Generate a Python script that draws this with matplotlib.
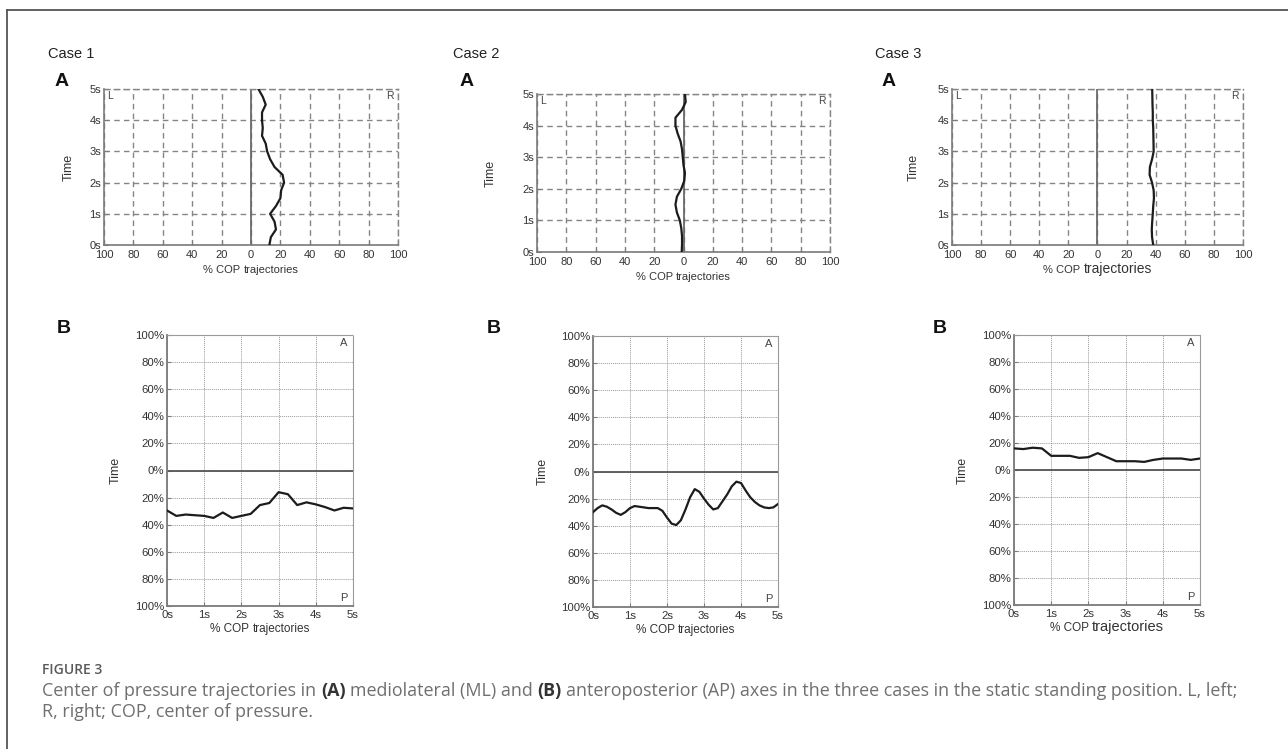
import numpy as np
import matplotlib
matplotlib.use("Agg")
import matplotlib.pyplot as plt
from matplotlib.lines import Line2D

# ---------------- data ----------------
# (A) mediolateral COP (%; negative = left, positive = right) sampled over time (s)
t_ml = np.linspace(0, 5, 21)
case1_ml = [12.5, 13.5, 17, 16, 13, 17, 20, 20.5, 22.5, 21.5, 16, 13, 11, 10, 7.5, 8, 7.5, 7.5, 10, 8, 5]
case2_ml = [-1.2, -1, -1, -1.5, -2.5, -4.5, -5.5, -4.5, -1.5, 0.5, 1, 0, -0.5, -1, -2, -4, -5.5, -5.5, -1, 1.5, 1]
case3_ml = [38.3, 37.5, 37.3, 37.6, 38, 38.3, 38.8, 38.6, 37.5, 35.8, 36, 37.5, 38.6, 38.5, 38.4, 38.3, 38, 38, 37.8, 37.7, 37.6]

# (B) anteroposterior COP (%; positive = anterior, negative = posterior) over time (s)
t_ap = np.linspace(0, 5, 21)
case1_ap = [-29.5, -33.5, -32.5, -33, -33.5, -35, -31, -35, -33.5, -32, -25.5, -24, -16, -17.5, -25.5, -23.5, -25, -27, -29.5, -27.5, -28]
t_ap2 = np.linspace(0, 5, 41)
case2_ap = [-30, -27, -25, -26, -28, -30.5, -32, -30, -27, -25.5, -26, -26.5, -27, -27, -27, -29,
            -34, -38.5, -39.5, -36, -28, -19, -13, -15, -20, -24.5, -28, -27, -22, -17, -11, -7.5,
            -8.5, -14, -19, -22.5, -25, -26.5, -27, -26.5, -24]
case3_ap = [16, 15.5, 16.5, 16, 10.5, 10.5, 10.5, 9, 9.5, 12.5, 9.5, 6.5, 6.5, 6.5, 6, 7.5, 8.5, 8.5, 8.5, 7.5, 8.5]

case_titles = ["Case 1", "Case 2", "Case 3"]
ml_xticks = [-100, -80, -60, -40, -20, 0, 20, 40, 60, 80, 100]
ml_xticklabels = ["100", "80", "60", "40", "20", "0", "20", "40", "60", "80", "100"]
ml_yticks = [0, 1, 2, 3, 4, 5]
ml_yticklabels = ["0s", "1s", "2s", "3s", "4s", "5s"]
ap_xticks = [0, 1, 2, 3, 4, 5]
ap_xticklabels = ["0s", "1s", "2s", "3s", "4s", "5s"]
ap_yticks = [-100, -80, -60, -40, -20, 0, 20, 40, 60, 80, 100]
ap_yticklabels = ["100%", "80%", "60%", "40%", "20%", "0%", "20%", "40%", "60%", "80%", "100%"]
xlabel_parts = ["% COP", "trajectories"]
ylabel_text = "Time"

# ---------------- figure ----------------
W, H = 1288, 749
fig = plt.figure(figsize=(W / 100, H / 100), dpi=100)
fig.patch.set_facecolor("white")
SANS = ["Liberation Sans", "DejaVu Sans"]
renderer = fig.canvas.get_renderer()


def px_axes(l, t, r, b):
    return fig.add_axes([l / W, 1 - b / H, (r - l) / W, (b - t) / H])


def text_w(s, **kw):
    t = fig.text(0, 0, s, **kw)
    w = t.get_window_extent(renderer).width
    t.remove()
    return w


def runs_centered(cx_px, cy_px, parts, sizes, color="#333333"):
    """Draw text parts side by side (single spaces between) centred at a pixel position."""
    ws = [text_w(p, fontsize=s, fontfamily=SANS) for p, s in zip(parts, sizes)]
    sp = text_w("a a", fontsize=min(sizes), fontfamily=SANS) - text_w("aa", fontsize=min(sizes), fontfamily=SANS)
    total = sum(ws) + sp * (len(parts) - 1)
    x = cx_px - total / 2
    for p, s, w in zip(parts, sizes, ws):
        fig.text(x / W, 1 - cy_px / H, p, ha="left", va="baseline", fontsize=s,
                 fontfamily=SANS, color=color)
        x += w + sp


AX_COL = "#7a7a7a"
CURVE = "#1c1c1c"

ml_boxes = [(104, 89, 398, 245), (537, 94, 830, 252), (952, 89, 1243, 245)]
ml_ylab = [-0.099, -0.137, -0.11]
ml_data = [case1_ml, case2_ml, case3_ml]

ap_boxes = [(167, 335, 353, 606), (593, 336, 778, 607), (1014, 335, 1200, 605)]
ap_ylab = [-0.242, -0.238, -0.242]
ap_data = [(t_ap, case1_ap), (t_ap2, case2_ap), (t_ap, case3_ap)]
label_sizes = [(8, 8), (8, 8), (8, 10)]
label_sizes_b = [(8.5, 8.5), (8.5, 8.5), (8.5, 10.5)]

for i in range(3):
    # ----- A panel (ML) -----
    l, t, r, b = ml_boxes[i]
    ax = px_axes(l, t, r, b)
    ax.set_xlim(-100, 100)
    ax.set_ylim(0, 5)
    ax.set_xticks(ml_xticks)
    ax.set_xticklabels(ml_xticklabels, fontfamily=SANS)
    ax.set_yticks(ml_yticks)
    ax.set_yticklabels(ml_yticklabels, fontfamily=SANS)
    ax.grid(True, linestyle=(0, (4, 3)), color="#858585", linewidth=1.0)
    for s in ["top", "right"]:
        ax.spines[s].set_linestyle((0, (4, 3)))
        ax.spines[s].set_color("#858585")
        ax.spines[s].set_linewidth(1.0)
    for s in ["left", "bottom"]:
        ax.spines[s].set_color(AX_COL)
        ax.spines[s].set_linewidth(1.2)
    ax.axvline(0, color="#6a6a6a", linewidth=1.3, zorder=2)
    ax.plot(ml_data[i], t_ml, color=CURVE, linewidth=1.6, zorder=3)
    ax.tick_params(direction="in", length=3, color=AX_COL, labelsize=8, labelcolor="#333333")
    ax.tick_params(axis="x", pad=3.5)
    ax.tick_params(axis="y", pad=2)
    ax.set_ylabel(ylabel_text, fontsize=9, fontfamily=SANS, color="#333333")
    ax.yaxis.set_label_coords(ml_ylab[i], 0.5)
    runs_centered((l + r) / 2, b + 28, xlabel_parts, label_sizes[i])
    ax.text(0.012, 0.985, "L", transform=ax.transAxes, ha="left", va="top",
            fontsize=7.5, fontfamily=SANS, color="#444444")
    ax.text(0.985, 0.985, "R", transform=ax.transAxes, ha="right", va="top",
            fontsize=7.5, fontfamily=SANS, color="#444444")

    # ----- B panel (AP) -----
    l, t, r, b = ap_boxes[i]
    bx = px_axes(l, t, r, b)
    bx.set_xlim(0, 5)
    bx.set_ylim(-100, 100)
    bx.set_xticks(ap_xticks)
    bx.set_xticklabels(ap_xticklabels, fontfamily=SANS)
    bx.set_yticks(ap_yticks)
    bx.set_yticklabels(ap_yticklabels, fontfamily=SANS)
    bx.grid(True, linestyle=(0, (1, 1)), color="#9a9a9a", linewidth=0.7)
    for s in ["top", "right"]:
        bx.spines[s].set_linestyle((0, (1, 1)))
        bx.spines[s].set_color("#9a9a9a")
        bx.spines[s].set_linewidth(0.8)
    for s in ["left", "bottom"]:
        bx.spines[s].set_color(AX_COL)
        bx.spines[s].set_linewidth(1.3)
    bx.axhline(0, color="#555555", linewidth=1.3, zorder=2)
    tx, vals = ap_data[i]
    bx.plot(tx, vals, color=CURVE, linewidth=1.6, zorder=3)
    bx.tick_params(direction="in", length=3, color=AX_COL, labelsize=8.2, labelcolor="#333333")
    bx.tick_params(axis="x", pad=3)
    bx.tick_params(axis="y", pad=2)
    bx.set_ylabel(ylabel_text, fontsize=9, fontfamily=SANS, color="#333333")
    bx.yaxis.set_label_coords(ap_ylab[i], 0.5)
    runs_centered((l + r) / 2, b + 26, xlabel_parts, label_sizes_b[i])
    bx.text(0.97, 0.99, "A", transform=bx.transAxes, ha="right", va="top",
            fontsize=8, fontfamily=SANS, color="#444444")
    bx.text(0.97, 0.012, "P", transform=bx.transAxes, ha="right", va="bottom",
            fontsize=8, fontfamily=SANS, color="#444444")

# Case titles and panel letters
case_x = [48, 453, 875]
A_x = [55, 460, 882]
B_x = [57, 487, 933]
for i in range(3):
    fig.text(case_x[i] / W, 1 - 54 / H, case_titles[i], ha="left", va="center",
             fontsize=10.5, fontfamily=SANS, color="#222222")
    fig.text(A_x[i] / W, 1 - 81 / H, "A", ha="left", va="center",
             fontsize=14, fontweight="bold", fontfamily=SANS, color="#111111")
    fig.text(B_x[i] / W, 1 - 329 / H, "B", ha="left", va="center",
             fontsize=14, fontweight="bold", fontfamily=SANS, color="#111111")

# Frame (left and top edges visible)
fig.add_artist(Line2D([7 / W, 7 / W], [0, 1 - 10 / H], transform=fig.transFigure,
                      color="#555555", linewidth=1.3))
fig.add_artist(Line2D([7 / W, 1], [1 - 10 / H, 1 - 10 / H], transform=fig.transFigure,
                      color="#555555", linewidth=1.3))

# Caption
CAP = ["Open Sans", "Lato", "DejaVu Sans"]
fig.text(42 / W, 1 - 670 / H, "FIGURE 3", ha="left", va="center", fontsize=10,
         fontfamily=CAP, fontweight="semibold", color="#5a5a5a")

cap_kw = dict(fontsize=12.9, fontfamily=CAP)
space_w = text_w("a a", **cap_kw) - text_w("aa", **cap_kw)
runs = [("Center of pressure trajectories in", "normal", "#6f6f6f"),
        ("(A)", "bold", "#333333"),
        ("mediolateral (ML) and", "normal", "#6f6f6f"),
        ("(B)", "bold", "#333333"),
        ("anteroposterior (AP) axes in the three cases in the static standing position. L, left;", "normal", "#6f6f6f")]
x = 42.0
for s, wgt, col in runs:
    fig.text(x / W, 1 - 691 / H, s, ha="left", va="center", fontweight=wgt, color=col, **cap_kw)
    x += text_w(s, fontweight=wgt, **cap_kw) + space_w
fig.text(42 / W, 1 - 712 / H, "R, right; COP, center of pressure.", ha="left", va="center",
         color="#6f6f6f", **cap_kw)

fig.savefig("out.png", dpi=100, facecolor="white")
